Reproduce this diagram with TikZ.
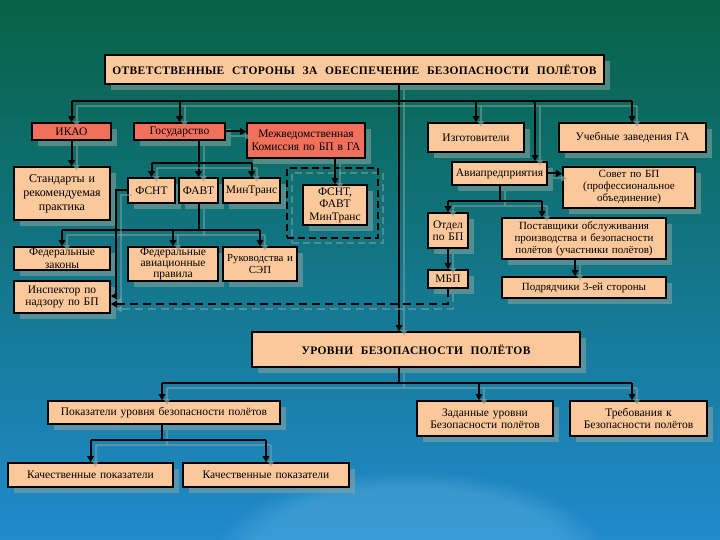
\documentclass[tikz,border=0pt]{standalone}
\usepackage{fontspec}
\setmainfont{Liberation Serif}
\newfontfamily\headfont[LetterSpace=3]{Liberation Serif}
\usetikzlibrary{arrows.meta,calc,shadows,fadings}
\definecolor{peach}{RGB}{250,200,155}
\definecolor{salmon}{RGB}{240,112,92}
\definecolor{bgtop}{RGB}{6,98,68}
\definecolor{bgmid}{RGB}{16,126,115}
\definecolor{bgbot}{RGB}{32,138,205}
\definecolor{glow}{RGB}{90,175,222}
\definecolor{shd}{RGB}{140,165,160}
\tikzset{
  box/.style={draw=black, line width=1.6pt, fill=peach, align=center, inner sep=1pt,
    font=\fontsize{11.5}{12.5}\selectfont,
    drop shadow={shadow xshift=6pt, shadow yshift=-6pt, fill=shd, opacity=0.55}},
  redbox/.style={fill=salmon},
  small/.style={font=\fontsize{11}{12}\selectfont},
  head/.style={font=\headfont\bfseries\fontsize{11.5}{12.5}\selectfont},
  conn/.style={line width=2pt, draw=black,
    preaction={draw=shd, opacity=0.5, line width=2pt, transform canvas={shift={(5pt,-5pt)}}}},
  arr/.style={conn, -{Triangle[length=6pt,width=6.5pt]}},
  dconn/.style={line width=2.2pt, draw=black, dash pattern=on 8pt off 5pt,
    preaction={draw=shd, opacity=0.5, line width=2pt, dash pattern=on 8pt off 5pt, transform canvas={shift={(5pt,-5pt)}}}},
  darr/.style={dconn, -{Triangle[length=6pt,width=6.5pt]}},
  dframe/.style={draw=black, line width=2pt, dash pattern=on 7pt off 4pt,
    preaction={draw=shd, opacity=0.5, line width=2pt, dash pattern=on 7pt off 4pt, transform canvas={shift={(5pt,-5pt)}}}},
}
\newcommand\mybox[7][]{%
  \pgfmathsetmacro\bxw{#5-#3}\pgfmathsetmacro\bxh{#6-#4}\pgfmathsetmacro\bxt{#5-#3-2}%
  \node[box,minimum width=\bxw pt,minimum height=\bxh pt,text width=\bxt pt,inner xsep=0pt,#1] (#2) at ({(#3+#5)/2},{(#4+#6)/2}) {#7};}
\begin{document}
\begin{tikzpicture}[x=1pt,y=-1pt]
\path[use as bounding box] (0,0) rectangle (720,540);
\begin{scope}
\clip (0,0) rectangle (720,540);
\shade[top color=bgtop, middle color=bgmid, bottom color=bgbot] (0pt,0pt) rectangle (720pt,-540pt);
\fill[glow, path fading=circle with fuzzy edge 20 percent, opacity=0.45] (410,560) ellipse (200 and 90);
\end{scope}

% boxes
\mybox[head]{title}{105}{55}{604}{84}{ОТВЕТСТВЕННЫЕ\ \ СТОРОНЫ\ \ ЗА\ \ ОБЕСПЕЧЕНИЕ\ \ БЕЗОПАСНОСТИ\ \ ПОЛЁТОВ}
\mybox[redbox]{ikao}{32}{123}{111}{140}{ИКАО}
\mybox[redbox]{gos}{134}{123}{225}{140}{Государство}
\mybox[redbox]{mvk}{247}{123}{365}{158}{Межведомственная\\Комиссия по БП в ГА}
\mybox{izg}{428}{123}{524}{152}{Изготовители}
\mybox{ucheb}{559}{123}{706}{152}{Учебные заведения ГА}
\mybox[font=\fontsize{12}{14}\selectfont]{std}{14}{167}{110}{220}{Стандарты и\\рекомендуемая\\практика}
\mybox{fsnt}{128}{178}{175}{203}{ФСНТ}
\mybox{favt}{179}{178}{218}{203}{ФАВТ}
\mybox{mintr}{223}{178}{280}{203}{МинТранс}
\node[dframe, minimum width=91pt, minimum height=70pt] (frame) at (332.5,203) {};
\mybox{fsnt2}{303}{185}{367}{225}{ФСНТ,\\ФАВТ\\МинТранс}
\mybox{avia}{452}{162}{547}{185}{Авиапредприятия}
\mybox[small]{sovet}{563}{167}{695}{208}{Совет по БП\\(профессиональное\\объединение)}
\mybox{otdel}{428}{213}{468}{248}{Отдел\\по БП}
\mybox[small]{post}{502}{218}{666}{259}{Поставщики обслуживания\\производства и безопасности\\полётов (участники полётов)}
\mybox{mbp}{428}{270}{468}{288}{МБП}
\mybox[small]{podr}{502}{277}{666}{298}{Подрядчики 3-ей стороны}
\mybox{fz}{14}{247}{110}{270}{Федеральные\\законы}
\mybox[font=\fontsize{11.5}{11}\selectfont]{fap}{128}{247}{218}{281}{Федеральные\\авиационные\\правила}
\mybox[font=\fontsize{10.8}{12.5}\selectfont]{ruk}{223}{247}{297}{281}{Руководства и\\СЭП}
\mybox{insp}{14}{281}{110}{313}{Инспектор по\\надзору по БП}
\mybox[head]{urov}{252}{332}{580}{367}{УРОВНИ\ \ БЕЗОПАСНОСТИ\ \ ПОЛЁТОВ}
\mybox{pokaz}{48}{401}{280}{424}{Показатели уровня безопасности полётов}
\mybox{zad}{417}{401}{553}{436}{Заданные уровни\\Безопасности полётов}
\mybox{treb}{570}{401}{707}{436}{Требования к\\Безопасности полётов}
\mybox{kach1}{8}{463}{173}{487}{Качественные показатели}
\mybox{kach2}{183}{463}{349}{487}{Качественные показатели}

% helper coordinates
\coordinate (trunk) at (399,84);
\coordinate (bus) at (399,101);
\coordinate (aviatap) at (535,101);
\coordinate (gbus) at (0,163);
\coordinate (fbus) at (0,230);
\coordinate (abus) at (542,201);
\coordinate (ptap) at (575,0);
\coordinate (dl) at (0,304);
\coordinate (ubus) at (0,383);
\coordinate (zx) at (479,0);
\coordinate (tx) at (632,0);
\coordinate (px) at (162,0);
\coordinate (kbus) at (0,440);

% top level
\draw[arr] (title.south -| trunk) -- (urov.north -| trunk);
\draw[conn] (ikao.north |- bus) -- (tx |- bus);
\draw[arr] (ikao.north |- bus) -- (ikao.north);
\draw[arr] (gos.north |- bus) -- (gos.north);
\draw[arr] (izg.north |- bus) -- (izg.north);
\draw[arr] (tx |- bus) -- (tx |- ucheb.north);
\draw[arr] (aviatap) -- (aviatap |- avia.north);

% ICAO / state
\draw[arr] (gos.east) -- (gos.east -| mvk.west);
\draw[arr] (ikao.south) -- (ikao.south |- std.north);
\draw[arr] (favt.north |- gos.south) -- (favt.north);
\draw[conn] (fsnt.north |- gbus) -- (mintr.north |- gbus);
\draw[arr] (fsnt.north |- gbus) -- (fsnt.north);
\draw[arr] (mintr.north |- gbus) -- (mintr.north);
\draw[arr] (fsnt2.north |- mvk.south) -- (fsnt2.north);
\draw[conn] (favt.south) -- (favt.south |- fbus);
\draw[conn] (fz.north |- fbus) -- (ruk.north |- fbus);
\draw[arr] (fz.north |- fbus) -- (fz.north);
\draw[arr] (fap.north |- fbus) -- (fap.north);
\draw[arr] (ruk.north |- fbus) -- (ruk.north);
\draw[arr] (fsnt.west) -- ++(-11,0) |- ($(insp.east)+(0,-1)$);
\draw[darr] (mbp.south) -- (mbp.south |- dl) -- ($(insp.east)+(0,7)$);

% operators
\draw[arr] (avia.east) -- (avia.east -| sovet.west);
\draw[conn] (avia.south) -- (avia.south |- abus);
\draw[conn] (otdel.north |- abus) -- (abus);
\draw[arr] (otdel.north |- abus) -- (otdel.north);
\draw[arr] (abus) -- (abus |- post.north);
\draw[arr] (otdel.south) -- (mbp.north);
\draw[arr] (post.south -| ptap) -- (podr.north -| ptap);

% levels
\draw[conn] (urov.south -| trunk) -- (trunk |- ubus);
\draw[conn] (px |- ubus) -- (tx |- ubus);
\draw[arr] (px |- ubus) -- (px |- pokaz.north);
\draw[arr] (zx |- ubus) -- (zx |- zad.north);
\draw[arr] (tx |- ubus) -- (tx |- treb.north);
\draw[conn] (px |- pokaz.south) -- (px |- kbus);
\draw[conn] (kach1.north |- kbus) -- (kach2.north |- kbus);
\draw[arr] (kach1.north |- kbus) -- (kach1.north);
\draw[arr] (kach2.north |- kbus) -- (kach2.north);
\end{tikzpicture}
\end{document}
